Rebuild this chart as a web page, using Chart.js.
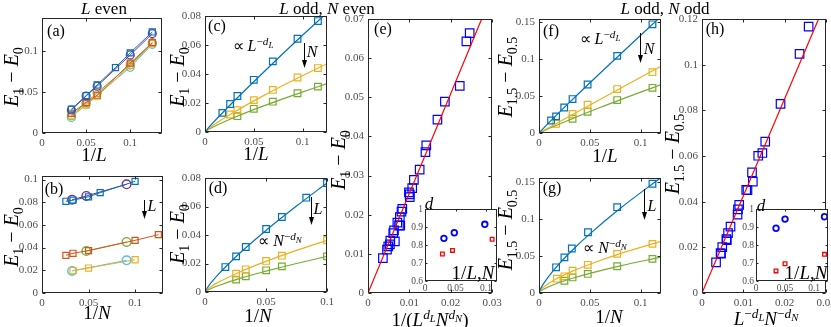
<!DOCTYPE html>
<html>
<head>
<meta charset="utf-8">
<script src="https://cdn.jsdelivr.net/npm/chart.js@4"></script>
<style>
  body { margin: 0; background: #fff; }
  #fig { position: relative; width: 831px; height: 327px; overflow: hidden; background: #fff; }
  canvas { position: absolute; }
  .t { position: absolute; z-index: 5; font-family: 'Liberation Serif', 'Times New Roman', serif; color: #000;
       white-space: nowrap; line-height: 1; transform: translate(-50%, -50%); }
  .t sub, .t sup { font-size: 70%; line-height: 0; }
  .t sup sub { font-size: 80%; }
  .rot { transform: translate(-50%, -50%) rotate(-90deg); }
  svg { position: absolute; left: 0; top: 0; z-index: 5; }
</style>
</head>
<body>
<div id="fig">
  <!-- titles -->
  <div class="t" style="left:104px;top:7.5px;font-size:17px"><i>L</i> even</div>
  <div class="t" style="left:327px;top:7.5px;font-size:17px"><i>L</i> odd, <i>N</i> even</div>
  <div class="t" style="left:665px;top:7.5px;font-size:17px"><i>L</i> odd, <i>N</i> odd</div>

  <!-- panel letters -->
  <div class="t" style="left:56px;top:31px;font-size:16px">(a)</div>
  <div class="t" style="left:54px;top:189px;font-size:16px">(b)</div>
  <div class="t" style="left:217px;top:26px;font-size:16px">(c)</div>
  <div class="t" style="left:218px;top:188px;font-size:16px">(d)</div>
  <div class="t" style="left:383px;top:29px;font-size:16px">(e)</div>
  <div class="t" style="left:551px;top:31px;font-size:16px">(f)</div>
  <div class="t" style="left:552px;top:188px;font-size:16px">(g)</div>
  <div class="t" style="left:715px;top:29px;font-size:16px">(h)</div>

  <!-- y axis labels -->
  <div class="t rot" style="left:11px;top:77px;font-size:20px"><i>E</i><sub>1</sub> − <i>E</i><sub>0</sub></div>
  <div class="t rot" style="left:11px;top:237px;font-size:20px"><i>E</i><sub>1</sub> − <i>E</i><sub>0</sub></div>
  <div class="t rot" style="left:177px;top:77px;font-size:20px"><i>E</i><sub>1</sub> − <i>E</i><sub>0</sub></div>
  <div class="t rot" style="left:177px;top:234px;font-size:20px"><i>E</i><sub>1</sub> − <i>E</i><sub>0</sub></div>
  <div class="t rot" style="left:338px;top:160px;font-size:20px"><i>E</i><sub>1</sub> − <i>E</i><sub>0</sub></div>
  <div class="t rot" style="left:505px;top:77px;font-size:20px"><i>E</i><sub>1.5</sub> − <i>E</i><sub>0.5</sub></div>
  <div class="t rot" style="left:505px;top:230px;font-size:20px"><i>E</i><sub>1.5</sub> − <i>E</i><sub>0.5</sub></div>
  <div class="t rot" style="left:672px;top:154px;font-size:20px"><i>E</i><sub>1.5</sub> − <i>E</i><sub>0.5</sub></div>

  <!-- x axis labels -->
  <div class="t" style="left:94px;top:154px;font-size:19px">1/<i>L</i></div>
  <div class="t" style="left:97px;top:312px;font-size:19px">1/<i>N</i></div>
  <div class="t" style="left:256px;top:153px;font-size:19px">1/<i>L</i></div>
  <div class="t" style="left:258px;top:315px;font-size:19px">1/<i>N</i></div>
  <div class="t" style="left:430px;top:319px;font-size:19px">1/(<i>L</i><sup><i>d</i><sub><i>L</i></sub></sup><i>N</i><sup><i>d</i><sub><i>N</i></sub></sup>)</div>
  <div class="t" style="left:605px;top:155px;font-size:19px">1/<i>L</i></div>
  <div class="t" style="left:609px;top:316px;font-size:19px">1/<i>N</i></div>
  <div class="t" style="left:766px;top:318px;font-size:19px"><i>L</i><sup>−<i>d</i><sub><i>L</i></sub></sup><i>N</i><sup>−<i>d</i><sub><i>N</i></sub></sup></div>

  <!-- annotations -->
  <div class="t" style="left:253px;top:46px;font-size:16px">∝ <i>L</i><sup>−<i>d</i><sub><i>L</i></sub></sup></div>
  <div class="t" style="left:600px;top:39px;font-size:16px">∝ <i>L</i><sup>−<i>d</i><sub><i>L</i></sub></sup></div>
  <div class="t" style="left:280px;top:241px;font-size:16px">∝ <i>N</i><sup>−<i>d</i><sub><i>N</i></sub></sup></div>
  <div class="t" style="left:605px;top:248px;font-size:16px">∝ <i>N</i><sup>−<i>d</i><sub><i>N</i></sub></sup></div>
  <div class="t" style="left:152px;top:206px;font-size:16px"><i>L</i></div>
  <div class="t" style="left:312px;top:52px;font-size:16px"><i>N</i></div>
  <div class="t" style="left:318px;top:209px;font-size:16px"><i>L</i></div>
  <div class="t" style="left:649px;top:49px;font-size:16px"><i>N</i></div>
  <div class="t" style="left:652px;top:206px;font-size:16px"><i>L</i></div>

  <!-- inset labels -->
  <div class="t" style="left:429px;top:203px;font-size:17px"><i>d</i></div>
  <div class="t" style="left:761px;top:205px;font-size:17px"><i>d</i></div>
  <div class="t" style="left:473px;top:272px;font-size:19px">1/<i>L</i>,<i>N</i></div>
  <div class="t" style="left:806px;top:272px;font-size:19px">1/<i>L</i>,<i>N</i></div>

  <svg id="arrows" width="831" height="327"></svg>
</div>

<script>
// MATLAB default colours
const BLUE = '#0072BD', ORANGE = '#D95319', YELLOW = '#EDB120',
      PURPLE = '#7E2F8E', GREEN = '#77AC30', CYAN = '#4DBEEE';

// ---- Panel (a): E1 - E0 vs 1/L (L even)
const A_X = [0.0333, 0.05, 0.0625, 0.0833, 0.1, 0.125];
const A_Y_BLUE = [0.029, 0.0455, 0.0585, 0.0797, 0.0976, 0.123];
const A_X5 = [0.0333, 0.05, 0.0625, 0.1, 0.125];
const A_Y_PURPLE = [0.028, 0.045, 0.057, 0.095, 0.121];
const A_Y_ORANGE = [0.024, 0.037, 0.046, 0.085, 0.11];
const A_Y_YELLOW = [0.021, 0.034, 0.045, 0.082, 0.109];
const A_Y_GREEN = [0.021, 0.037, 0.049, 0.083, 0.11];
const A_X_CYAN = [0.0333, 0.05, 0.1, 0.125];
const A_Y_CYAN = [0.019, 0.035, 0.08, 0.108];
const A_XTICKS = [0, 0.05, 0.1];
const A_YTICKS = [0, 0.05, 0.1];

// ---- Panel (b): E1 - E0 vs 1/N
const B_X_BLUE = [0.0257, 0.0333, 0.05, 0.0625, 0.1];
const B_Y_BLUE = [0.0808, 0.0818, 0.0848, 0.0884, 0.0984];
const B_X_CIRC = [0.0323, 0.0476, 0.0909];
const B_Y_PURPLE = [0.0822, 0.0855, 0.0958];
const B_X_ORANGE = [0.0257, 0.0333, 0.05, 0.1, 0.125];
const B_Y_ORANGE = [0.0332, 0.035, 0.0373, 0.0464, 0.0514];
const B_X_GREEN = [0.0476, 0.0909];
const B_Y_GREEN = [0.037, 0.045];
const B_Y_CYAN = [0.0194, 0.0288];
const B_X_CYAN = [0.0323, 0.0909];
const B_X_YELLOW = [0.0333, 0.05, 0.1];
const B_Y_YELLOW = [0.0198, 0.022, 0.0293];
const B_XTICKS = [0, 0.05, 0.1];
const B_YTICKS = [0, 0.02, 0.04, 0.06, 0.08, 0.1];

// ---- Panel (c): E1 - E0 vs 1/L (L odd, N even)
const C_X_BLUE = [0.0178, 0.0257, 0.0332, 0.05, 0.0695, 0.0948, 0.1157];
const C_Y_BLUE = [0.0132, 0.0193, 0.0248, 0.036, 0.0487, 0.0643, 0.0765];
const C_X_YELLOW = [0.0257, 0.0332, 0.05, 0.0695, 0.0948, 0.1157];
const C_Y_YELLOW = [0.0121, 0.0151, 0.022, 0.029, 0.0376, 0.0441];
const C_X_GREEN = [0.0332, 0.05, 0.0695, 0.0948, 0.1157];
const C_Y_GREEN = [0.0109, 0.016, 0.0209, 0.0267, 0.0313];
const C_FIT_X = [0, 0.005, 0.03, 0.06, 0.09, 0.125];
const C_FIT_BLUE = [0, 0.004, 0.0215, 0.0412, 0.0605, 0.0822];
const C_FIT_YELLOW = [0, 0.003, 0.0138, 0.0251, 0.0355, 0.0471];
const C_FIT_GREEN = [0, 0.0022, 0.01, 0.018, 0.0253, 0.0334];
const C_XTICKS = [0, 0.05, 0.1];
const C_YTICKS = [0, 0.02, 0.04, 0.06, 0.08];

// ---- Panel (d): E1 - E0 vs 1/N (L odd, N even)
const D_X_BLUE = [0.0167, 0.0255, 0.0334, 0.0501, 0.063, 0.083, 0.1];
const D_Y_BLUE = [0.0175, 0.025, 0.0316, 0.0442, 0.0526, 0.0662, 0.0765];
const D_X = [0.0255, 0.0334, 0.0501, 0.063, 0.1];
const D_Y_YELLOW = [0.0129, 0.0159, 0.0218, 0.0255, 0.0363];
const D_Y_GREEN = [0.0087, 0.011, 0.0152, 0.018, 0.025];
const D_FIT_X = [0, 0.002, 0.005, 0.01, 0.03, 0.05, 0.075, 0.1];
const D_FIT_BLUE = [0, 0.003, 0.0065, 0.0115, 0.0284, 0.0432, 0.0603, 0.0765];
const D_FIT_YELLOW = [0, 0.0019, 0.0038, 0.0064, 0.0146, 0.0215, 0.0292, 0.0363];
const D_FIT_GREEN = [0, 0.0012, 0.0025, 0.0042, 0.0099, 0.0146, 0.02, 0.025];
const D_XTICKS = [0, 0.05, 0.1];
const D_YTICKS = [0, 0.02, 0.04, 0.06, 0.08];

// ---- Panel (e): collapse onto 1/(L^dL N^dN)
const E_X = [0.0246, 0.0238, 0.0222, 0.0186, 0.0168, 0.0141, 0.0139, 0.0125, 0.0111, 0.0107, 0.0099, 0.0101, 0.0101,
             0.0083, 0.0081, 0.0077, 0.0075, 0.0078, 0.0071, 0.0063, 0.0061, 0.0065, 0.0054, 0.0053, 0.0049, 0.0046, 0.0036];
const E_Y = [0.0664, 0.0643, 0.0529, 0.0489, 0.0443, 0.0377, 0.036, 0.0315, 0.0289, 0.0268, 0.0257, 0.0252, 0.0245,
             0.0215, 0.0208, 0.0194, 0.0173, 0.0172, 0.018, 0.016, 0.0153, 0.0132, 0.0134, 0.0124, 0.0119, 0.0111, 0.0089];
const E_FIT_X = [0, 0.0275];
const E_FIT_Y = [0, 0.07];
const E_XTICKS = [0, 0.01, 0.02, 0.03];
const E_YTICKS = [0, 0.01, 0.02, 0.03, 0.04, 0.05, 0.06, 0.07];
// inset of (e): exponents d
const EI_X_BLUE = [0.031, 0.048, 0.098];
const EI_Y_BLUE = [0.837, 0.868, 0.915];
const EI_X_RED = [0.0285, 0.045, 0.11];
const EI_Y_RED = [0.75, 0.77, 0.832];

// ---- Panel (f): E1.5 - E0.5 vs 1/L (L odd, N odd)
const F_X_BLUE = [0.0119, 0.0168, 0.0248, 0.033, 0.0478, 0.0769, 0.1116];
const F_Y_BLUE = [0.017, 0.0225, 0.0346, 0.046, 0.0657, 0.1045, 0.1473];
const F_X_YELLOW = [0.0168, 0.033, 0.0478, 0.0769, 0.1116];
const F_Y_YELLOW = [0.0126, 0.0257, 0.0383, 0.0595, 0.0824];
const F_X_GREEN = [0.033, 0.0478, 0.0769, 0.1116];
const F_Y_GREEN = [0.0193, 0.0288, 0.0446, 0.0612];
const F_FIT_X = [0, 0.005, 0.03, 0.06, 0.12];
const F_FIT_BLUE = [0, 0.0073, 0.0415, 0.081, 0.158];
const F_FIT_YELLOW = [0, 0.0038, 0.0228, 0.0455, 0.0905];
const F_FIT_GREEN = [0, 0.0032, 0.0178, 0.0345, 0.0656];
const F_XTICKS = [0, 0.05, 0.1];
const F_YTICKS = [0, 0.05, 0.1, 0.15];

// ---- Panel (g): E1.5 - E0.5 vs 1/N
const G_X_BLUE = [0.0168, 0.025, 0.0323, 0.0482, 0.0769, 0.1116];
const G_Y_BLUE = [0.0346, 0.048, 0.06, 0.0819, 0.1157, 0.1473];
const G_X_YELLOW = [0.0175, 0.025, 0.033, 0.048, 0.0769, 0.1116];
const G_Y_YELLOW = [0.0193, 0.0225, 0.03, 0.038, 0.0527, 0.0662];
const G_X_GREEN = [0.025, 0.033, 0.048, 0.0769, 0.1116];
const G_Y_GREEN = [0.0165, 0.021, 0.0257, 0.036, 0.046];
const G_FIT_X = [0, 0.001, 0.005, 0.0168, 0.033, 0.05, 0.08, 0.12];
const G_FIT_BLUE = [0, 0.004, 0.0137, 0.0346, 0.058, 0.0797, 0.1142, 0.1557];
const G_FIT_YELLOW = [0, 0.0029, 0.0084, 0.0188, 0.0295, 0.0388, 0.053, 0.0695];
const G_FIT_GREEN = [0, 0.0018, 0.0055, 0.0125, 0.0199, 0.0265, 0.0366, 0.0484];
const G_XTICKS = [0, 0.05, 0.1];
const G_YTICKS = [0, 0.05, 0.1, 0.15];

// ---- Panel (h): collapse onto L^-dL N^-dN
const H_X = [0.0258, 0.0236, 0.019, 0.0153, 0.0146, 0.0136, 0.0121, 0.0123, 0.0107, 0.011, 0.009, 0.0087, 0.0086,
             0.0069, 0.0063, 0.0059, 0.006, 0.0049, 0.0046, 0.0045, 0.0034];
const H_Y = [0.1167, 0.1047, 0.0828, 0.0663, 0.0613, 0.0601, 0.0528, 0.0488, 0.0452, 0.045, 0.0386, 0.0366, 0.0343,
             0.0291, 0.0262, 0.0236, 0.0231, 0.0201, 0.0172, 0.0175, 0.0134];
const H_FIT_X = [0, 0.0282];
const H_FIT_Y = [0, 0.12];
const H_XTICKS = [0, 0.01, 0.02, 0.03];
const H_YTICKS = [0, 0.02, 0.04, 0.06, 0.08, 0.1, 0.12];
// inset of (h)
const HI_X_BLUE = [0.0345, 0.05, 0.118];
const HI_Y_BLUE = [0.893, 0.944, 0.957];
const HI_X_RED = [0.0345, 0.05, 0.118];
const HI_Y_RED = [0.656, 0.696, 0.748];

const IN_XTICKS = [0, 0.05, 0.1];
const IN_YTICKS = [0.6, 0.7, 0.8, 0.9, 1];

// Helpers
const pts = (xs, ys) => xs.map((x, i) => ({ x, y: ys[i] }));

function markers(xs, ys, color, style, r, bw, joined) {
    return {
        data: pts(xs, ys),
        showLine: !!joined,
        borderColor: color,
        borderWidth: 1,
        pointStyle: style,
        pointRadius: r,
        pointBorderWidth: bw || 1.2,
        pointBorderColor: color,
        pointBackgroundColor: 'rgba(0,0,0,0)'
    };
}

function fitLine(xs, ys, color, width) {
    return {
        data: pts(xs, ys),
        showLine: true,
        borderColor: color,
        borderWidth: width || 1.2,
        pointRadius: 0,
        cubicInterpolationMode: 'monotone'
    };
}

// Axes box with inward ticks on every side
const framePlugin = {
    id: 'frame',
    beforeDraw(chart, args, opts) {
        if (!opts.fill) return;
        const a = chart.chartArea, ctx = chart.ctx;
        ctx.save();
        ctx.fillStyle = '#fff';
        ctx.fillRect(a.left, a.top, a.right - a.left, a.bottom - a.top);
        ctx.restore();
    },
    afterDraw(chart, args, opts) {
        const a = chart.chartArea, ctx = chart.ctx;
        const sx = chart.scales.x, sy = chart.scales.y;
        const tl = opts.tick || 3;
        const L = Math.round(a.left) + 0.5, R = Math.round(a.right) - 0.5;
        const T = Math.round(a.top) + 0.5, B = Math.round(a.bottom) - 0.5;
        ctx.save();
        ctx.strokeStyle = '#262626';
        ctx.lineWidth = 1;
        ctx.strokeRect(L, T, R - L, B - T);
        ctx.beginPath();
        sx.ticks.forEach(t => {
            const p = Math.round(sx.getPixelForValue(t.value)) + 0.5;
            ctx.moveTo(p, B); ctx.lineTo(p, B - tl);
            ctx.moveTo(p, T); ctx.lineTo(p, T + tl);
        });
        sy.ticks.forEach(t => {
            const p = Math.round(sy.getPixelForValue(t.value)) + 0.5;
            ctx.moveTo(L, p); ctx.lineTo(L + tl, p);
            ctx.moveTo(R, p); ctx.lineTo(R - tl, p);
        });
        ctx.stroke();
        ctx.restore();
    }
};

// Build one panel so that its plot area lands on the given page box
function makePanel(box, xr, yr, xticks, yticks, datasets, inset) {
    const padL = inset ? 24 : 40, padB = inset ? 14 : 18, padT = 8, padR = 12;
    const w = box.r - box.l + padL + padR;
    const h = box.b - box.t + padT + padB;
    const canvas = document.createElement('canvas');
    canvas.width = w;
    canvas.height = h;
    canvas.style.width = w + 'px';
    canvas.style.height = h + 'px';
    canvas.style.left = (box.l - padL) + 'px';
    canvas.style.top = (box.t - padT) + 'px';
    canvas.style.zIndex = inset ? 2 : 1;
    document.getElementById('fig').appendChild(canvas);

    const axis = (range, ticks, isX) => ({
        type: 'linear',
        position: isX ? 'bottom' : 'left',
        min: range[0],
        max: range[1],
        grid: { display: false, drawTicks: false },
        border: { display: false },
        ticks: {
            autoSkip: false,
            maxRotation: 0,
            minRotation: 0,
            padding: inset ? 2 : 4,
            color: '#4d4d4d',
            font: { family: "'Liberation Serif', 'Times New Roman', serif", size: inset ? 9.5 : 11 },
            callback: v => String(+Number(v).toFixed(4))
        },
        afterBuildTicks: s => { s.ticks = ticks.map(v => ({ value: v })); },
        afterFit: s => {
            if (isX) s.height = padB; else s.width = padL;
            s.paddingLeft = s.paddingRight = s.paddingTop = s.paddingBottom = 0;
        }
    });

    return new Chart(canvas, {
        type: 'scatter',
        data: { datasets },
        options: {
            responsive: false,
            animation: false,
            events: [],
            layout: { padding: { top: padT, right: padR, left: 0, bottom: 0 } },
            plugins: {
                legend: { display: false },
                tooltip: { enabled: false },
                frame: { fill: !!inset, tick: inset ? 2 : 3 }
            },
            scales: { x: axis(xr, xticks, true), y: axis(yr, yticks, false) }
        },
        plugins: [framePlugin]
    });
}

// Arrows drawn as plain SVG annotation
function drawArrows() {
    const arrows = [[144.5, 200, 219], [304.5, 43, 68], [311.5, 197, 225], [640.5, 33, 63], [644.5, 189, 220]];
    const svg = document.getElementById('arrows');
    let html = '';
    arrows.forEach(([x, y1, y2]) => {
        html += `<line x1="${x}" y1="${y1}" x2="${x}" y2="${y2 - 6}" stroke="#000" stroke-width="1"/>`;
        html += `<polygon points="${x - 2.5},${y2 - 8} ${x + 2.5},${y2 - 8} ${x},${y2}" fill="#000"/>`;
    });
    svg.innerHTML = html;
}

// Create all panels
function initFigure() {
    // (a)
    makePanel({ l: 42, t: 18, r: 162, b: 133 }, [0, 0.136], [0, 0.14], A_XTICKS, A_YTICKS, [
        markers(A_X, A_Y_BLUE, BLUE, 'rect', 4.3, 1.2, true),
        markers(A_X5, A_Y_PURPLE, PURPLE, 'circle', 4, 1.2, true),
        markers(A_X5, A_Y_ORANGE, ORANGE, 'rect', 4.3, 1.2, true),
        markers(A_X5, A_Y_YELLOW, YELLOW, 'rect', 4.3, 1.2, true),
        markers(A_X5, A_Y_GREEN, GREEN, 'circle', 4, 1.2, true),
        markers(A_X_CYAN, A_Y_CYAN, CYAN, 'circle', 4, 1.2, true)
    ]);

    // (b)
    makePanel({ l: 42, t: 176, r: 163, b: 293 }, [0, 0.13], [0, 0.1031], B_XTICKS, B_YTICKS, [
        markers(B_X_BLUE, B_Y_BLUE, BLUE, 'rect', 4.3, 1.2, true),
        markers(B_X_CIRC, B_Y_PURPLE, PURPLE, 'circle', 4.3, 1.4, true),
        markers(B_X_ORANGE, B_Y_ORANGE, ORANGE, 'rect', 4.3, 1.2, true),
        markers(B_X_GREEN, B_Y_GREEN, GREEN, 'circle', 4.3, 1.4, true),
        markers(B_X_YELLOW, B_Y_YELLOW, YELLOW, 'rect', 4.3, 1.2, true),
        markers(B_X_CYAN, B_Y_CYAN, CYAN, 'circle', 4.3, 1.4, true)
    ]);

    // (c)
    makePanel({ l: 205, t: 16, r: 327, b: 132 }, [0, 0.125], [0, 0.08], C_XTICKS, C_YTICKS, [
        fitLine(C_FIT_X, C_FIT_BLUE, BLUE),
        fitLine(C_FIT_X, C_FIT_YELLOW, YELLOW),
        fitLine(C_FIT_X, C_FIT_GREEN, GREEN),
        markers(C_X_BLUE, C_Y_BLUE, BLUE, 'rect', 4.7),
        markers(C_X_YELLOW, C_Y_YELLOW, YELLOW, 'rect', 4.7),
        markers(C_X_GREEN, C_Y_GREEN, GREEN, 'rect', 4.7)
    ]);

    // (d)
    makePanel({ l: 205, t: 178, r: 327, b: 292 }, [0, 0.1], [0, 0.08], D_XTICKS, D_YTICKS, [
        fitLine(D_FIT_X, D_FIT_BLUE, BLUE),
        fitLine(D_FIT_X, D_FIT_YELLOW, YELLOW),
        fitLine(D_FIT_X, D_FIT_GREEN, GREEN),
        markers(D_X_BLUE, D_Y_BLUE, BLUE, 'rect', 4.7),
        markers(D_X, D_Y_YELLOW, YELLOW, 'rect', 4.7),
        markers(D_X, D_Y_GREEN, GREEN, 'rect', 4.7)
    ]);

    // (e)
    makePanel({ l: 368, t: 19, r: 492, b: 293 }, [0, 0.03], [0, 0.07], E_XTICKS, E_YTICKS, [
        fitLine(E_FIT_X, E_FIT_Y, '#FF0000', 1.2),
        markers(E_X, E_Y, '#0000FF', 'rect', 6, 1.2)
    ]);
    makePanel({ l: 425, t: 209, r: 497, b: 281 }, [0, 0.118], [0.6, 1], IN_XTICKS, IN_YTICKS, [
        markers(EI_X_BLUE, EI_Y_BLUE, '#0000FF', 'circle', 2.8, 1.8),
        markers(EI_X_RED, EI_Y_RED, '#FF0000', 'rect', 2.6, 1.3)
    ], true);

    // (f)
    makePanel({ l: 539, t: 19, r: 661, b: 133 }, [0, 0.12], [0, 0.1545], F_XTICKS, F_YTICKS, [
        fitLine(F_FIT_X, F_FIT_BLUE, BLUE),
        fitLine(F_FIT_X, F_FIT_YELLOW, YELLOW),
        fitLine(F_FIT_X, F_FIT_GREEN, GREEN),
        markers(F_X_BLUE, F_Y_BLUE, BLUE, 'rect', 4.7),
        markers(F_X_YELLOW, F_Y_YELLOW, YELLOW, 'rect', 4.7),
        markers(F_X_GREEN, F_Y_GREEN, GREEN, 'rect', 4.7)
    ]);

    // (g)
    makePanel({ l: 539, t: 178, r: 661, b: 293 }, [0, 0.12], [0, 0.155], G_XTICKS, G_YTICKS, [
        fitLine(G_FIT_X, G_FIT_BLUE, BLUE),
        fitLine(G_FIT_X, G_FIT_YELLOW, YELLOW),
        fitLine(G_FIT_X, G_FIT_GREEN, GREEN),
        markers(G_X_BLUE, G_Y_BLUE, BLUE, 'rect', 4.7),
        markers(G_X_YELLOW, G_Y_YELLOW, YELLOW, 'rect', 4.7),
        markers(G_X_GREEN, G_Y_GREEN, GREEN, 'rect', 4.7)
    ]);

    // (h)
    makePanel({ l: 702, t: 19, r: 826, b: 293 }, [0, 0.03], [0, 0.12], H_XTICKS, H_YTICKS, [
        fitLine(H_FIT_X, H_FIT_Y, '#FF0000', 1.2),
        markers(H_X, H_Y, '#0000FF', 'rect', 6, 1.2)
    ]);
    makePanel({ l: 756, t: 209, r: 828, b: 281 }, [0, 0.124], [0.6, 1], IN_XTICKS, IN_YTICKS, [
        markers(HI_X_BLUE, HI_Y_BLUE, '#0000FF', 'circle', 2.8, 1.8),
        markers(HI_X_RED, HI_Y_RED, '#FF0000', 'rect', 2.6, 1.3)
    ], true);

    drawArrows();
}

initFigure();
</script>
</body>
</html>
